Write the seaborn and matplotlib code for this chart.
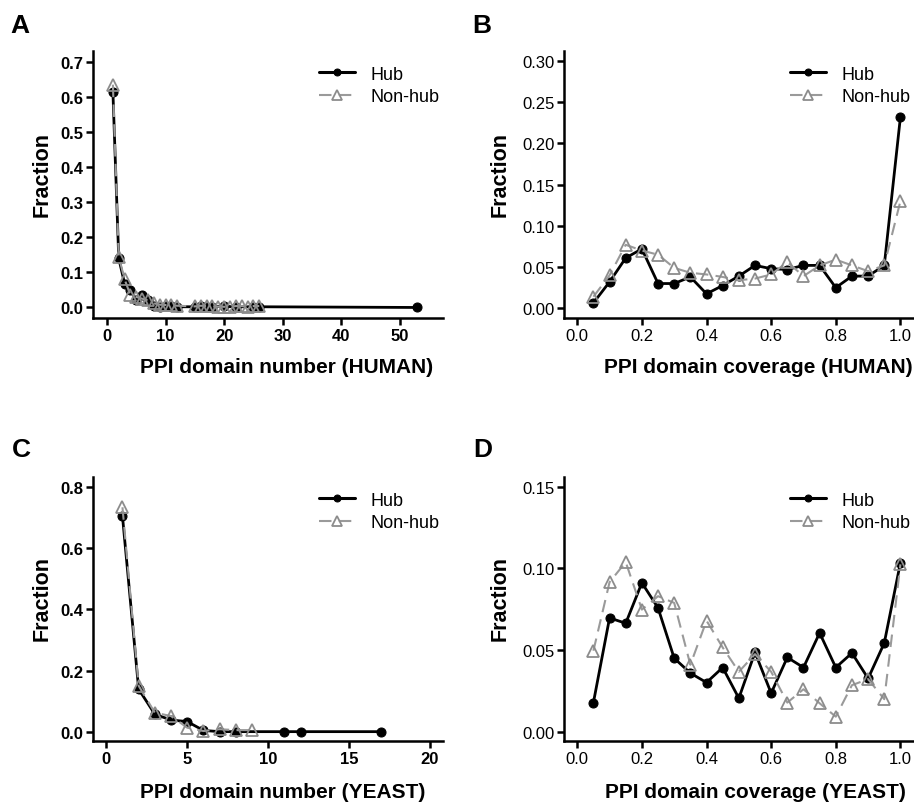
import numpy as np
import pandas as pd
import matplotlib
matplotlib.use("Agg")
import matplotlib.pyplot as plt
import seaborn as sns

# ---------------- data ----------------
# Panel A: PPI domain number (HUMAN)
a_hub_x = [1, 2, 3, 4, 5, 6, 7, 8, 9, 10, 11, 12, 15, 16, 17, 18, 20, 22, 25, 26, 53]
a_hub_y = [0.615, 0.140, 0.068, 0.050, 0.020, 0.035, 0.020, 0.005, 0.000, 0.005, 0.003,
           0.002, 0.002, 0.003, 0.002, 0.002, 0.003, 0.002, 0.002, 0.002, 0.000]
a_non_x = [1, 2, 3, 4, 5, 6, 7, 8, 9, 10, 11, 12, 15, 16, 17, 18, 19, 20, 21, 22, 23, 24, 25, 26]
a_non_y = [0.635, 0.145, 0.080, 0.035, 0.030, 0.025, 0.020, 0.012, 0.008, 0.007, 0.006,
           0.005, 0.003, 0.005, 0.004, 0.003, 0.002, 0.002, 0.002, 0.004, 0.004, 0.002,
           0.004, 0.004]

# Panel B: PPI domain coverage (HUMAN)
cov_x = [0.05, 0.10, 0.15, 0.20, 0.25, 0.30, 0.35, 0.40, 0.45, 0.50,
         0.55, 0.60, 0.65, 0.70, 0.75, 0.80, 0.85, 0.90, 0.95, 1.00]
b_hub_y = [0.0065, 0.032, 0.061, 0.072, 0.030, 0.030, 0.038, 0.0175, 0.0276, 0.039,
           0.052, 0.048, 0.047, 0.052, 0.052, 0.025, 0.039, 0.039, 0.052, 0.232]
b_non_y = [0.014, 0.040, 0.077, 0.070, 0.065, 0.049, 0.043, 0.041, 0.038, 0.034,
           0.036, 0.041, 0.056, 0.039, 0.052, 0.059, 0.052, 0.045, 0.052, 0.130]

# Panel C: PPI domain number (YEAST)
c_hub_x = [1, 2, 3, 4, 5, 6, 7, 8, 11, 12, 17]
c_hub_y = [0.705, 0.139, 0.057, 0.038, 0.033, 0.004, 0.000, 0.000, 0.000, 0.000, 0.000]
c_non_x = [1, 2, 3, 4, 5, 6, 7, 8, 9]
c_non_y = [0.734, 0.150, 0.062, 0.051, 0.013, 0.002, 0.008, 0.005, 0.005]

# Panel D: PPI domain coverage (YEAST)
d_hub_y = [0.0178, 0.0697, 0.0664, 0.0912, 0.0758, 0.0450, 0.0359, 0.0301, 0.0393, 0.0205,
           0.0486, 0.0236, 0.0455, 0.0393, 0.0605, 0.0393, 0.0482, 0.0326, 0.0543, 0.1035]
d_non_y = [0.0496, 0.0916, 0.1039, 0.0748, 0.0830, 0.0789, 0.0410, 0.0680, 0.0516, 0.0367,
           0.0475, 0.0367, 0.0178, 0.0260, 0.0174, 0.0092, 0.0285, 0.0322, 0.0199, 0.1025]

series_labels = ["Hub", "Non-hub"]
panel_letters = ["A", "B", "C", "D"]
x_labels = ["PPI domain number (HUMAN)", "PPI domain coverage (HUMAN)",
            "PPI domain number (YEAST)", "PPI domain coverage (YEAST)"]
y_label = "Fraction"

# ---------------- style ----------------
sns.set_theme(style="ticks")
plt.rcParams["font.family"] = ["Liberation Sans", "DejaVu Sans"]
plt.rcParams["text.color"] = "black"
plt.rcParams["axes.labelcolor"] = "black"
plt.rcParams["xtick.color"] = "black"
plt.rcParams["ytick.color"] = "black"

W, H = 914, 803
fig = plt.figure(figsize=(W / 100, H / 100), dpi=100)

def px_axes(l, r, t, b):
    return fig.add_axes([l / W, 1 - b / H, (r - l) / W, (b - t) / H])

axA = px_axes(93, 443, 52, 319)
axB = px_axes(564, 914, 52, 319)
axC = px_axes(93, 443, 478, 742)
axD = px_axes(564, 914, 478, 742)

panels = [
    (axA, a_hub_x, a_hub_y, a_non_x, a_non_y, (-2.4, 57.4), (-0.030, 0.731),
     [0, 10, 20, 30, 40, 50], [0, 0.1, 0.2, 0.3, 0.4, 0.5, 0.6, 0.7], "{:.1f}", True),
    (axB, cov_x, b_hub_y, cov_x, b_non_y, (-0.041, 1.042), (-0.0118, 0.312),
     [0, 0.2, 0.4, 0.6, 0.8, 1.0], [0, 0.05, 0.10, 0.15, 0.20, 0.25, 0.30], "{:.2f}", False),
    (axC, c_hub_x, c_hub_y, c_non_x, c_non_y, (-0.82, 20.8), (-0.0306, 0.833),
     [0, 5, 10, 15, 20], [0, 0.2, 0.4, 0.6, 0.8], "{:.1f}", True),
    (axD, cov_x, d_hub_y, cov_x, d_non_y, (-0.041, 1.042), (-0.0057, 0.156),
     [0, 0.2, 0.4, 0.6, 0.8, 1.0], [0, 0.05, 0.10, 0.15], "{:.2f}", False),
]

xlab_pos = [(0.554, -0.18), (0.556, -0.18), (0.543, -0.193), (0.546, -0.193)]
ylab_pos = [(-0.146, 0.54), (-0.183, 0.54), (-0.146, 0.545), (-0.183, 0.545)]
leg_anchor = [(0.645, 0.945), (0.645, 0.945), (0.645, 0.945), (0.645, 0.945)]

for i, (ax, hx, hy, nx, ny, xl, yl, xt, yt, yfmt, bold) in enumerate(panels):
    sns.lineplot(x=hx, y=hy, ax=ax, color="black", linewidth=2.0, marker="o",
                 markersize=6.5, markeredgecolor="black", markerfacecolor="black",
                 label=series_labels[0], zorder=3)
    sns.lineplot(x=nx, y=ny, ax=ax, color="#9a9a9a", linewidth=1.5, marker="^",
                 markersize=8, markeredgecolor="#8c8c8c", markerfacecolor="none",
                 markeredgewidth=1.3, dashes=(6, 3.5), label=series_labels[1], zorder=4)
    ax.set_xlim(*xl)
    ax.set_ylim(*yl)
    ax.set_xticks(xt)
    ax.set_yticks(yt)
    if i in (1, 3):
        ax.set_xticklabels([f"{v:.1f}" for v in xt])
    else:
        ax.set_xticklabels([f"{v:g}" for v in xt])
    ax.set_yticklabels([yfmt.format(v) for v in yt])
    for side in ["top", "right"]:
        ax.spines[side].set_visible(False)
    for side in ["left", "bottom"]:
        ax.spines[side].set_linewidth(1.8)
        ax.spines[side].set_color("black")
    ax.tick_params(axis="both", direction="out", length=5, width=1.8, color="black",
                   labelsize=12, pad=2, labelcolor="black")
    for lab in ax.get_xticklabels() + ax.get_yticklabels():
        lab.set_fontweight("bold" if bold else "normal")
    ax.set_xlabel(x_labels[i], fontsize=15, fontweight="heavy")
    ax.set_ylabel(y_label, fontsize=15.5, fontweight="heavy")
    ax.xaxis.set_label_coords(*xlab_pos[i])
    ax.yaxis.label.set_va("center")
    ax.xaxis.label.set_va("center")
    ax.yaxis.set_label_coords(*ylab_pos[i])
    ax.set_facecolor("white")
    leg = ax.legend(loc="upper left", bbox_to_anchor=leg_anchor[i], frameon=False,
                    fontsize=13, handlelength=2.0, handletextpad=0.85,
                    labelspacing=0.3, borderpad=0, borderaxespad=0)
    for h in leg.get_lines():
        if h.get_marker() == "o":
            h.set_markersize(5)
            h.set_linewidth(2.2)
        else:
            h.set_markersize(7)

letter_pos = [(10, 33), (472, 33), (12, 457), (473, 457)]
for (x, y), let in zip(letter_pos, panel_letters):
    fig.text(x / W, 1 - y / H, let, fontsize=19, fontweight="heavy", ha="left",
             va="baseline")

fig.savefig("out.png", dpi=100, facecolor="white")
